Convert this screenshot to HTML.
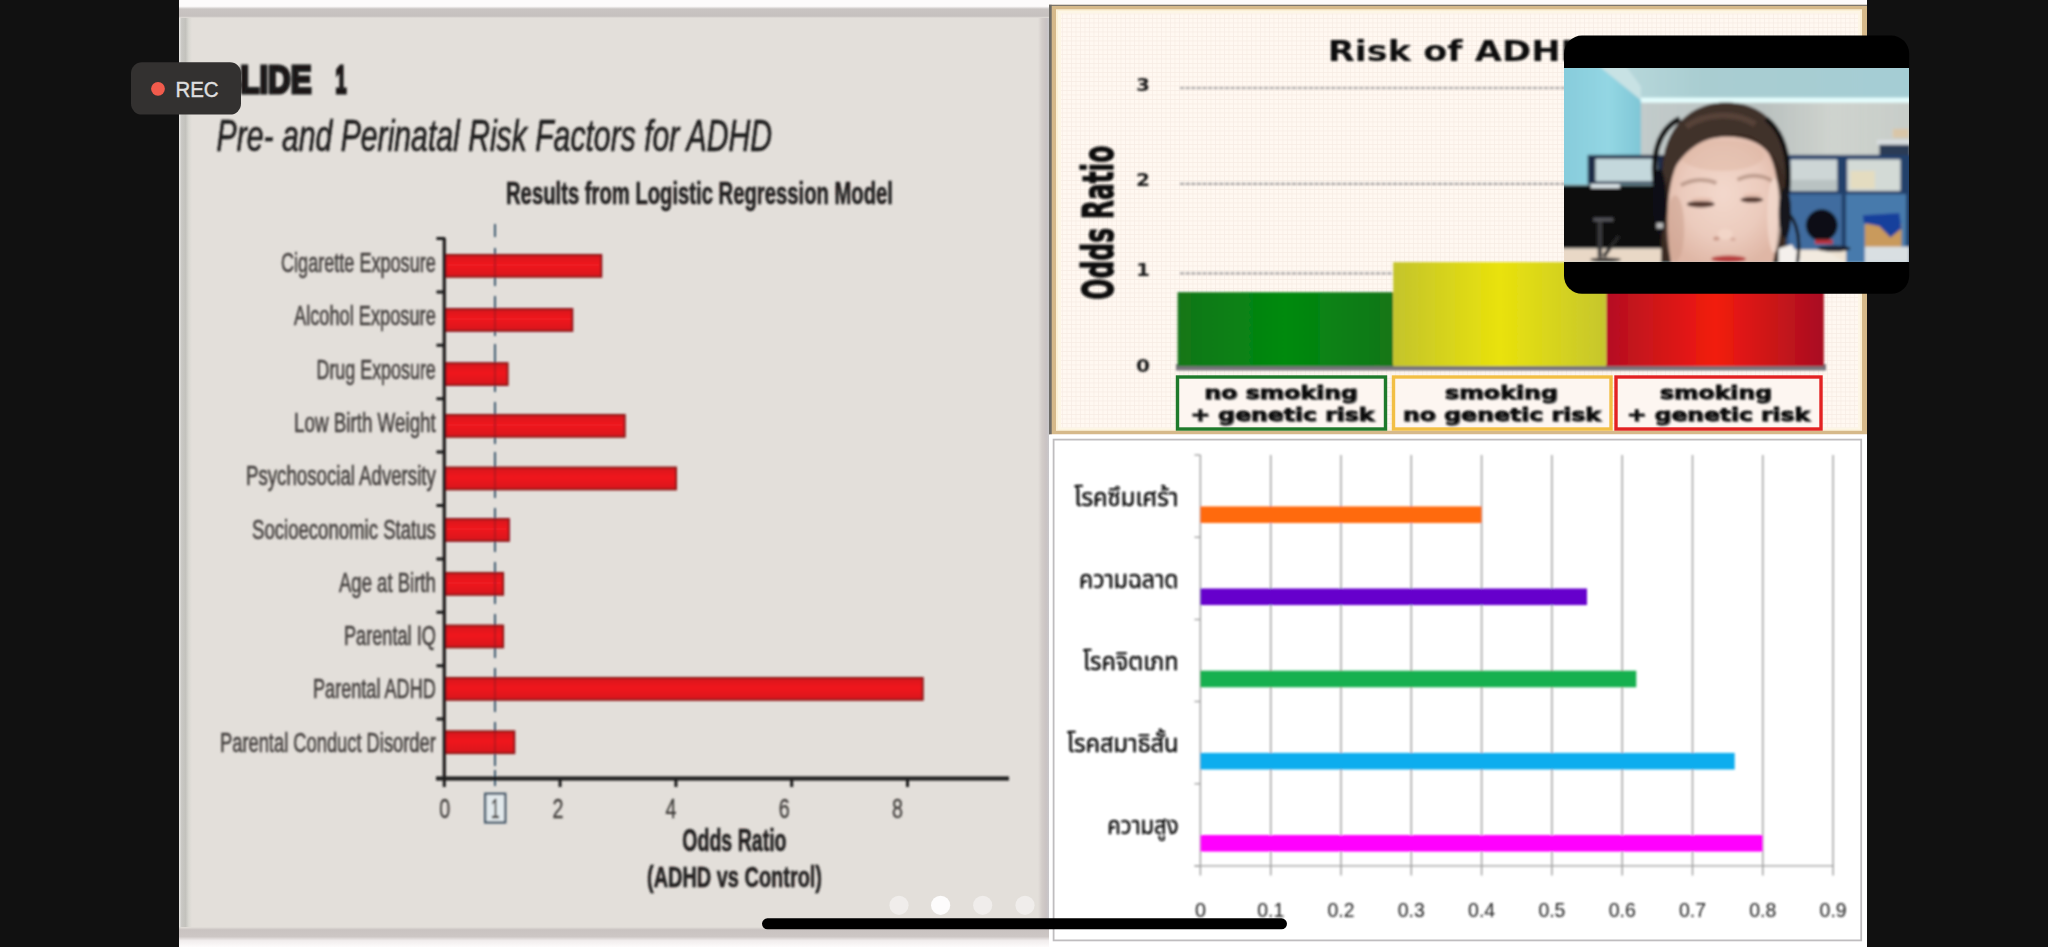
<!DOCTYPE html>
<html lang="th"><head><meta charset="utf-8"><title>Slide share</title>
<style>
html,body{margin:0;padding:0;background:#111111;}
body{width:2048px;height:947px;overflow:hidden;position:relative;font-family:"Liberation Sans","Noto Sans Thai",sans-serif;}
svg{display:block;position:absolute;left:0;top:0;}
text{white-space:pre;}
</style></head><body>
<svg width="2048" height="947" viewBox="0 0 2048 947">
<defs>
<pattern id="grid" width="4.5" height="4.5" patternUnits="userSpaceOnUse">
<rect width="4.5" height="4.5" fill="#fff8f1"/>
<path d="M0 0H4.5M0 0V4.5" stroke="#f7ebe3" stroke-width="1.2" fill="none"/>
</pattern>
<linearGradient id="gGreen" x1="0" x2="1" y1="0" y2="0"><stop offset="0" stop-color="#14761a"/><stop offset="0.5" stop-color="#008a0e"/><stop offset="1" stop-color="#14761a"/></linearGradient>
<linearGradient id="gYellow" x1="0" x2="1" y1="0" y2="0"><stop offset="0" stop-color="#c4c42c"/><stop offset="0.5" stop-color="#e9e20c"/><stop offset="1" stop-color="#c6c62e"/></linearGradient>
<linearGradient id="gRed" x1="0" x2="1" y1="0" y2="0"><stop offset="0" stop-color="#b40f22"/><stop offset="0.5" stop-color="#f21c0e"/><stop offset="1" stop-color="#a80e22"/></linearGradient>
<linearGradient id="gBar" x1="0" x2="0" y1="0" y2="1"><stop offset="0" stop-color="#d8161c"/><stop offset="0.45" stop-color="#f01a20"/><stop offset="1" stop-color="#d8161c"/></linearGradient>
<linearGradient id="gTop" x1="0" x2="0" y1="0" y2="1"><stop offset="0" stop-color="#fdfbfb"/><stop offset="0.35" stop-color="#fdfbfb"/><stop offset="0.5" stop-color="#c9c4c2"/><stop offset="0.9" stop-color="#c6c1bf"/><stop offset="1" stop-color="#e3dfda"/></linearGradient>
<linearGradient id="gBot" x1="0" x2="0" y1="0" y2="1"><stop offset="0" stop-color="#e3dfda"/><stop offset="0.14" stop-color="#c9c3c1"/><stop offset="0.48" stop-color="#cdc7c5"/><stop offset="0.68" stop-color="#f1eded"/><stop offset="1" stop-color="#fdfbfb"/></linearGradient>
<linearGradient id="gLeft" x1="0" x2="1" y1="0" y2="0"><stop offset="0" stop-color="#ecebe8"/><stop offset="0.2" stop-color="#c9c8c4"/><stop offset="0.5" stop-color="#c3c2bd"/><stop offset="0.75" stop-color="#d9d8d2"/><stop offset="1" stop-color="#e3dfda"/></linearGradient>
<linearGradient id="gRight" x1="0" x2="1" y1="0" y2="0"><stop offset="0" stop-color="#e3dfda"/><stop offset="0.35" stop-color="#d2ccc9"/><stop offset="0.7" stop-color="#cac3c3"/><stop offset="1" stop-color="#c8c8cc"/></linearGradient>
<filter id="soft" x="-5%" y="-5%" width="110%" height="110%"><feGaussianBlur stdDeviation="0.85"/></filter>
<filter id="soft2" x="-5%" y="-5%" width="110%" height="110%"><feGaussianBlur stdDeviation="0.8"/></filter>
<filter id="photo" x="-5%" y="-5%" width="110%" height="110%"><feGaussianBlur stdDeviation="1.5"/></filter>
<clipPath id="photoClip"><rect x="1564" y="68" width="345" height="194"/></clipPath>
</defs>
<rect x="0" y="0" width="2048" height="947" fill="#111111"/>
<rect x="179" y="0" width="1688" height="947" fill="#fdfbfb"/>

<g id="slide">
<rect x="179" y="0" width="870" height="947" fill="#e3dfda"/>
<rect x="179" y="6" width="13" height="934" fill="url(#gLeft)"/>
<rect x="1038" y="8" width="11.5" height="930" fill="url(#gRight)"/>
<rect x="179" y="0" width="870.5" height="18" fill="url(#gTop)"/>
<rect x="179" y="927" width="870.5" height="20" fill="url(#gBot)"/>
</g>
<g id="slidecontent" filter="url(#soft)">
<text x="219.5" y="92.5" font-family="'Liberation Sans', sans-serif" font-size="38.5" font-weight="bold" font-style="normal" fill="#1c1a1a" text-anchor="start" textLength="92" lengthAdjust="spacingAndGlyphs" stroke="#1c1a1a" stroke-width="3.2" stroke-linejoin="miter">SLIDE</text>
<text x="335.5" y="92.5" font-family="'Liberation Sans', sans-serif" font-size="38.5" font-weight="bold" font-style="normal" fill="#1c1a1a" text-anchor="start" textLength="11" lengthAdjust="spacingAndGlyphs" stroke="#1c1a1a" stroke-width="3.2" stroke-linejoin="miter">1</text>
<text x="216.6" y="151" font-family="'Liberation Sans', sans-serif" font-size="44.2" font-weight="normal" font-style="italic" fill="#1f1d1d" text-anchor="start" textLength="555.5" lengthAdjust="spacingAndGlyphs" stroke="#1f1d1d" stroke-width="0.7">Pre- and Perinatal Risk Factors for ADHD</text>
<text x="506" y="204" font-family="'Liberation Sans', sans-serif" font-size="31.5" font-weight="bold" font-style="normal" fill="#232020" text-anchor="start" textLength="387" lengthAdjust="spacingAndGlyphs" stroke="#232020" stroke-width="0.6">Results from Logistic Regression Model</text>
<path d="M495 224V237 M495 248V286 M495 296V336 M495 344V392 M495 402V444 M495 452V498 M495 508V552 M495 562V604 M495 614V658 M495 668V712 M495 722V766 M495 770V786" stroke="#33526a" stroke-width="1.9" fill="none"/>
<text x="281" y="272.0" font-family="'Liberation Sans', sans-serif" font-size="27" font-weight="normal" font-style="normal" fill="#433f3d" text-anchor="start" textLength="154.8" lengthAdjust="spacingAndGlyphs" stroke="#433f3d" stroke-width="0.6">Cigarette Exposure</text>
<rect x="445.5" y="254.95" width="155.8" height="21.8" fill="url(#gBar)" stroke="#8e1216" stroke-width="2"/>
<text x="294" y="325.3" font-family="'Liberation Sans', sans-serif" font-size="27" font-weight="normal" font-style="normal" fill="#433f3d" text-anchor="start" textLength="141.8" lengthAdjust="spacingAndGlyphs" stroke="#433f3d" stroke-width="0.6">Alcohol Exposure</text>
<rect x="445.5" y="309.05" width="126.8" height="21.8" fill="url(#gBar)" stroke="#8e1216" stroke-width="2"/>
<text x="316.5" y="378.6" font-family="'Liberation Sans', sans-serif" font-size="27" font-weight="normal" font-style="normal" fill="#433f3d" text-anchor="start" textLength="119.3" lengthAdjust="spacingAndGlyphs" stroke="#433f3d" stroke-width="0.6">Drug Exposure</text>
<rect x="445.5" y="363.15" width="62.1" height="21.8" fill="url(#gBar)" stroke="#8e1216" stroke-width="2"/>
<text x="294" y="431.9" font-family="'Liberation Sans', sans-serif" font-size="27" font-weight="normal" font-style="normal" fill="#433f3d" text-anchor="start" textLength="141.8" lengthAdjust="spacingAndGlyphs" stroke="#433f3d" stroke-width="0.6">Low Birth Weight</text>
<rect x="445.5" y="414.95" width="179.2" height="21.8" fill="url(#gBar)" stroke="#8e1216" stroke-width="2"/>
<text x="246" y="485.2" font-family="'Liberation Sans', sans-serif" font-size="27" font-weight="normal" font-style="normal" fill="#433f3d" text-anchor="start" textLength="189.8" lengthAdjust="spacingAndGlyphs" stroke="#433f3d" stroke-width="0.6">Psychosocial Adversity</text>
<rect x="445.5" y="467.55" width="230.5" height="21.8" fill="url(#gBar)" stroke="#8e1216" stroke-width="2"/>
<text x="252" y="538.5" font-family="'Liberation Sans', sans-serif" font-size="27" font-weight="normal" font-style="normal" fill="#433f3d" text-anchor="start" textLength="183.8" lengthAdjust="spacingAndGlyphs" stroke="#433f3d" stroke-width="0.6">Socioeconomic Status</text>
<rect x="445.5" y="519.05" width="63.4" height="21.8" fill="url(#gBar)" stroke="#8e1216" stroke-width="2"/>
<text x="339" y="591.8" font-family="'Liberation Sans', sans-serif" font-size="27" font-weight="normal" font-style="normal" fill="#433f3d" text-anchor="start" textLength="96.8" lengthAdjust="spacingAndGlyphs" stroke="#433f3d" stroke-width="0.6">Age at Birth</text>
<rect x="445.5" y="572.95" width="57.6" height="21.8" fill="url(#gBar)" stroke="#8e1216" stroke-width="2"/>
<text x="344" y="645.1" font-family="'Liberation Sans', sans-serif" font-size="27" font-weight="normal" font-style="normal" fill="#433f3d" text-anchor="start" textLength="91.8" lengthAdjust="spacingAndGlyphs" stroke="#433f3d" stroke-width="0.6">Parental IQ</text>
<rect x="445.5" y="625.55" width="57.6" height="21.8" fill="url(#gBar)" stroke="#8e1216" stroke-width="2"/>
<text x="313" y="698.4" font-family="'Liberation Sans', sans-serif" font-size="27" font-weight="normal" font-style="normal" fill="#433f3d" text-anchor="start" textLength="122.8" lengthAdjust="spacingAndGlyphs" stroke="#433f3d" stroke-width="0.6">Parental ADHD</text>
<rect x="445.5" y="677.95" width="477.2" height="21.8" fill="url(#gBar)" stroke="#8e1216" stroke-width="2"/>
<text x="220" y="751.7" font-family="'Liberation Sans', sans-serif" font-size="27" font-weight="normal" font-style="normal" fill="#433f3d" text-anchor="start" textLength="215.8" lengthAdjust="spacingAndGlyphs" stroke="#433f3d" stroke-width="0.6">Parental Conduct Disorder</text>
<rect x="445.5" y="731.35" width="68.8" height="21.8" fill="url(#gBar)" stroke="#8e1216" stroke-width="2"/>
<path d="M495 255.7V275.7 M495 309.8V329.8 M495 363.9V383.9 M495 415.7V435.7 M495 468.3V488.3 M495 519.8V539.8 M495 573.7V593.7 M495 626.3V646.3 M495 678.7V698.7 M495 732.1V752.1 " stroke="#7a1a22" stroke-width="1.6" opacity="0.5" fill="none"/>
<path d="M444.3 238V779" stroke="#1d1b1b" stroke-width="3.2" fill="none"/>
<path d="M436 778.6H1009" stroke="#1d1b1b" stroke-width="4" fill="none"/>
<path d="M436.5 238.5H445 M436.5 291.9H445 M436.5 345.3H445 M436.5 398.7H445 M436.5 452.1H445 M436.5 505.5H445 M436.5 558.9H445 M436.5 612.3H445 M436.5 665.7H445 M436.5 719.1H445 " stroke="#1d1b1b" stroke-width="3" fill="none"/>
<path d="M444.3 778V787 M560.1 778V787 M675.9 778V787 M791.7 778V787 M907.5 778V787 " stroke="#1d1b1b" stroke-width="3" fill="none"/>
<text x="444.7" y="818" font-family="'Liberation Sans', sans-serif" font-size="27" font-weight="normal" font-style="normal" fill="#3f3c3a" text-anchor="middle" textLength="11" lengthAdjust="spacingAndGlyphs" stroke="#3f3c3a" stroke-width="0.3">0</text>
<text x="557.9" y="818" font-family="'Liberation Sans', sans-serif" font-size="27" font-weight="normal" font-style="normal" fill="#3f3c3a" text-anchor="middle" textLength="11" lengthAdjust="spacingAndGlyphs" stroke="#3f3c3a" stroke-width="0.3">2</text>
<text x="671.1" y="818" font-family="'Liberation Sans', sans-serif" font-size="27" font-weight="normal" font-style="normal" fill="#3f3c3a" text-anchor="middle" textLength="11" lengthAdjust="spacingAndGlyphs" stroke="#3f3c3a" stroke-width="0.3">4</text>
<text x="784.3" y="818" font-family="'Liberation Sans', sans-serif" font-size="27" font-weight="normal" font-style="normal" fill="#3f3c3a" text-anchor="middle" textLength="11" lengthAdjust="spacingAndGlyphs" stroke="#3f3c3a" stroke-width="0.3">6</text>
<text x="897.5" y="818" font-family="'Liberation Sans', sans-serif" font-size="27" font-weight="normal" font-style="normal" fill="#3f3c3a" text-anchor="middle" textLength="11" lengthAdjust="spacingAndGlyphs" stroke="#3f3c3a" stroke-width="0.3">8</text>
<rect x="485.2" y="793.8" width="20" height="28.6" fill="#e2e9ec" stroke="#44596a" stroke-width="2.4"/>
<text x="495.3" y="818" font-family="'Liberation Sans', sans-serif" font-size="27" font-weight="normal" font-style="normal" fill="#3f3c3a" text-anchor="middle" textLength="9" lengthAdjust="spacingAndGlyphs" stroke="#3f3c3a" stroke-width="0.3">1</text>
<text x="682.3" y="851" font-family="'Liberation Sans', sans-serif" font-size="31.5" font-weight="bold" font-style="normal" fill="#232020" text-anchor="start" textLength="104.2" lengthAdjust="spacingAndGlyphs" stroke="#232020" stroke-width="0.6">Odds Ratio</text>
<text x="647" y="887.4" font-family="'Liberation Sans', sans-serif" font-size="30" font-weight="bold" font-style="normal" fill="#232020" text-anchor="start" textLength="175" lengthAdjust="spacingAndGlyphs" stroke="#232020" stroke-width="0.6">(ADHD vs Control)</text>
</g>
<g id="risk">
<rect x="1049" y="4.8" width="818" height="429.4" fill="#d6b98a"/>
<rect x="1049" y="4.8" width="818" height="1.2" fill="#7b756c"/>
<rect x="1049" y="4.8" width="2.7" height="429.4" fill="#6c6a66"/>
<rect x="1056" y="9.3" width="806" height="421.5" fill="#fbf0d6"/>
<rect x="1058" y="11" width="802" height="418.5" fill="#fdf6e6"/>
<rect x="1061" y="13.5" width="797" height="414" fill="url(#grid)"/>
<g filter="url(#soft)">
<path d="M1180 88H1826" stroke="#a9a6a6" stroke-width="2.2" stroke-dasharray="4.2 1.4" fill="none"/>
<path d="M1180 183.8H1826" stroke="#a9a6a6" stroke-width="2.2" stroke-dasharray="4.2 1.4" fill="none"/>
<path d="M1180 273.4H1826" stroke="#a9a6a6" stroke-width="2.2" stroke-dasharray="4.2 1.4" fill="none"/>
<text x="1136" y="91" font-family="'DejaVu Sans', sans-serif" font-size="17" font-weight="bold" font-style="normal" fill="#1a1a1a" text-anchor="start" textLength="14" lengthAdjust="spacingAndGlyphs" >3</text>
<text x="1136" y="186" font-family="'DejaVu Sans', sans-serif" font-size="17" font-weight="bold" font-style="normal" fill="#1a1a1a" text-anchor="start" textLength="14" lengthAdjust="spacingAndGlyphs" >2</text>
<text x="1136" y="276" font-family="'DejaVu Sans', sans-serif" font-size="17" font-weight="bold" font-style="normal" fill="#1a1a1a" text-anchor="start" textLength="14" lengthAdjust="spacingAndGlyphs" >1</text>
<text x="1136" y="372" font-family="'DejaVu Sans', sans-serif" font-size="17" font-weight="bold" font-style="normal" fill="#1a1a1a" text-anchor="start" textLength="14" lengthAdjust="spacingAndGlyphs" >0</text>
<text x="1327.7" y="61.2" font-family="'DejaVu Sans', sans-serif" font-size="28.3" font-weight="bold" font-style="normal" fill="#111" text-anchor="start" textLength="262" lengthAdjust="spacingAndGlyphs" >Risk of ADHD</text>
<g transform="translate(1113.2 300.5) rotate(-90)">
<text x="0.8" y="-0.6" font-family="'DejaVu Sans', sans-serif" font-size="42.5" font-weight="bold" font-style="normal" fill="#111" text-anchor="start" textLength="154" lengthAdjust="spacingAndGlyphs" stroke="#111" stroke-width="1.3">Odds Ratio</text>
</g>
<rect x="1176" y="364" width="650" height="6.5" fill="#77737a"/>
<rect x="1177.6" y="292.2" width="215.6" height="74" fill="url(#gGreen)"/>
<rect x="1393.2" y="262.2" width="213.3" height="104" fill="url(#gYellow)"/>
<rect x="1606.5" y="255" width="217.3" height="111.2" fill="url(#gRed)"/>
</g>
<rect x="1177.5" y="377" width="208" height="52" fill="#fdf6f1" stroke="#1f7a2b" stroke-width="3.4"/>
<rect x="1393.5" y="377" width="217.5" height="52" fill="#fdf6f1" stroke="#f2bf45" stroke-width="3.4"/>
<rect x="1616" y="377" width="205" height="52" fill="#fdf6f1" stroke="#e32222" stroke-width="3.4"/>
<g filter="url(#soft)">
<text x="1205.7" y="400.0" font-family="'DejaVu Sans', sans-serif" font-size="18.4" font-weight="bold" font-style="normal" fill="#8a8a8a" text-anchor="start" textLength="153.5" lengthAdjust="spacingAndGlyphs" >no smoking</text>
<text x="1204.5" y="398.8" font-family="'DejaVu Sans', sans-serif" font-size="18.4" font-weight="bold" font-style="normal" fill="#111" text-anchor="start" textLength="153.5" lengthAdjust="spacingAndGlyphs" stroke="#111" stroke-width="0.9">no smoking</text>
<text x="1191.7" y="421.7" font-family="'DejaVu Sans', sans-serif" font-size="18.4" font-weight="bold" font-style="normal" fill="#8a8a8a" text-anchor="start" textLength="183.9" lengthAdjust="spacingAndGlyphs" >+ genetic risk</text>
<text x="1190.5" y="420.5" font-family="'DejaVu Sans', sans-serif" font-size="18.4" font-weight="bold" font-style="normal" fill="#111" text-anchor="start" textLength="183.9" lengthAdjust="spacingAndGlyphs" stroke="#111" stroke-width="0.9">+ genetic risk</text>
<text x="1446.2" y="400.0" font-family="'DejaVu Sans', sans-serif" font-size="18.4" font-weight="bold" font-style="normal" fill="#8a8a8a" text-anchor="start" textLength="113" lengthAdjust="spacingAndGlyphs" >smoking</text>
<text x="1445" y="398.8" font-family="'DejaVu Sans', sans-serif" font-size="18.4" font-weight="bold" font-style="normal" fill="#111" text-anchor="start" textLength="113" lengthAdjust="spacingAndGlyphs" stroke="#111" stroke-width="0.9">smoking</text>
<text x="1404.2" y="421.7" font-family="'DejaVu Sans', sans-serif" font-size="18.4" font-weight="bold" font-style="normal" fill="#8a8a8a" text-anchor="start" textLength="198" lengthAdjust="spacingAndGlyphs" >no genetic risk</text>
<text x="1403" y="420.5" font-family="'DejaVu Sans', sans-serif" font-size="18.4" font-weight="bold" font-style="normal" fill="#111" text-anchor="start" textLength="198" lengthAdjust="spacingAndGlyphs" stroke="#111" stroke-width="0.9">no genetic risk</text>
<text x="1661.2" y="400.0" font-family="'DejaVu Sans', sans-serif" font-size="18.4" font-weight="bold" font-style="normal" fill="#8a8a8a" text-anchor="start" textLength="112" lengthAdjust="spacingAndGlyphs" >smoking</text>
<text x="1660" y="398.8" font-family="'DejaVu Sans', sans-serif" font-size="18.4" font-weight="bold" font-style="normal" fill="#111" text-anchor="start" textLength="112" lengthAdjust="spacingAndGlyphs" stroke="#111" stroke-width="0.9">smoking</text>
<text x="1628.2" y="421.7" font-family="'DejaVu Sans', sans-serif" font-size="18.4" font-weight="bold" font-style="normal" fill="#8a8a8a" text-anchor="start" textLength="183" lengthAdjust="spacingAndGlyphs" >+ genetic risk</text>
<text x="1627" y="420.5" font-family="'DejaVu Sans', sans-serif" font-size="18.4" font-weight="bold" font-style="normal" fill="#111" text-anchor="start" textLength="183" lengthAdjust="spacingAndGlyphs" stroke="#111" stroke-width="0.9">+ genetic risk</text>
</g>
</g>
<g id="thai">
<rect x="1049" y="435" width="818" height="512" fill="#ffffff"/>
<rect x="1053.6" y="439.6" width="807.6" height="500.8" fill="#ffffff" stroke="#bfbdbf" stroke-width="1.8"/>
<g filter="url(#soft)">
<path d="M1200.4 455V875.5 M1270.7 455V875.5 M1341.0 455V875.5 M1411.3 455V875.5 M1481.6 455V875.5 M1551.9 455V875.5 M1622.2 455V875.5 M1692.5 455V875.5 M1762.8 455V875.5 M1833.1 455V875.5 " stroke="#9c9c9c" stroke-width="1.4" fill="none"/>
<path d="M1194.5 865.9H1833.5" stroke="#9c9c9c" stroke-width="1.4" fill="none"/>
<path d="M1194.5 455.0H1200.4 M1194.5 537.2H1200.4 M1194.5 619.4H1200.4 M1194.5 701.6H1200.4 M1194.5 783.8H1200.4 M1194.5 866.0H1200.4 " stroke="#a9a9a9" stroke-width="1.5" fill="none"/>
<rect x="1200.4" y="506.4" width="281.2" height="16.6" fill="#ff6a0f"/>
<text x="1074.3" y="505.6" font-family="'Liberation Sans', 'Noto Sans Thai', 'Noto Sans Thai UI', 'Loma', 'Garuda', sans-serif" font-size="24" font-weight="normal" font-style="normal" fill="#111" text-anchor="start" textLength="104.2" lengthAdjust="spacingAndGlyphs" stroke="#111" stroke-width="0.55">โรคซึมเศร้า</text>
<rect x="1200.4" y="588.5" width="386.6" height="16.6" fill="#6600cc"/>
<text x="1079" y="587.8" font-family="'Liberation Sans', 'Noto Sans Thai', 'Noto Sans Thai UI', 'Loma', 'Garuda', sans-serif" font-size="24" font-weight="normal" font-style="normal" fill="#111" text-anchor="start" textLength="99.5" lengthAdjust="spacingAndGlyphs" stroke="#111" stroke-width="0.55">ความฉลาด</text>
<rect x="1200.4" y="670.7" width="435.9" height="16.6" fill="#19b050"/>
<text x="1083" y="669.9" font-family="'Liberation Sans', 'Noto Sans Thai', 'Noto Sans Thai UI', 'Loma', 'Garuda', sans-serif" font-size="24" font-weight="normal" font-style="normal" fill="#111" text-anchor="start" textLength="95.5" lengthAdjust="spacingAndGlyphs" stroke="#111" stroke-width="0.55">โรคจิตเภท</text>
<rect x="1200.4" y="752.9" width="534.3" height="16.6" fill="#0fadee"/>
<text x="1067" y="752.1" font-family="'Liberation Sans', 'Noto Sans Thai', 'Noto Sans Thai UI', 'Loma', 'Garuda', sans-serif" font-size="24" font-weight="normal" font-style="normal" fill="#111" text-anchor="start" textLength="111.5" lengthAdjust="spacingAndGlyphs" stroke="#111" stroke-width="0.55">โรคสมาธิสั้น</text>
<rect x="1200.4" y="835.0" width="562.4" height="16.6" fill="#ff00fe"/>
<text x="1107.3" y="834.2" font-family="'Liberation Sans', 'Noto Sans Thai', 'Noto Sans Thai UI', 'Loma', 'Garuda', sans-serif" font-size="24" font-weight="normal" font-style="normal" fill="#111" text-anchor="start" textLength="71.2" lengthAdjust="spacingAndGlyphs" stroke="#111" stroke-width="0.55">ความสูง</text>
<text x="1200.4" y="917" font-family="'Liberation Sans', sans-serif" font-size="21" font-weight="normal" font-style="normal" fill="#1c1c1c" text-anchor="middle" textLength="11" lengthAdjust="spacingAndGlyphs" >0</text>
<text x="1270.7" y="917" font-family="'Liberation Sans', sans-serif" font-size="21" font-weight="normal" font-style="normal" fill="#1c1c1c" text-anchor="middle" textLength="27" lengthAdjust="spacingAndGlyphs" >0.1</text>
<text x="1341.0" y="917" font-family="'Liberation Sans', sans-serif" font-size="21" font-weight="normal" font-style="normal" fill="#1c1c1c" text-anchor="middle" textLength="27" lengthAdjust="spacingAndGlyphs" >0.2</text>
<text x="1411.3" y="917" font-family="'Liberation Sans', sans-serif" font-size="21" font-weight="normal" font-style="normal" fill="#1c1c1c" text-anchor="middle" textLength="27" lengthAdjust="spacingAndGlyphs" >0.3</text>
<text x="1481.6" y="917" font-family="'Liberation Sans', sans-serif" font-size="21" font-weight="normal" font-style="normal" fill="#1c1c1c" text-anchor="middle" textLength="27" lengthAdjust="spacingAndGlyphs" >0.4</text>
<text x="1551.9" y="917" font-family="'Liberation Sans', sans-serif" font-size="21" font-weight="normal" font-style="normal" fill="#1c1c1c" text-anchor="middle" textLength="27" lengthAdjust="spacingAndGlyphs" >0.5</text>
<text x="1622.2" y="917" font-family="'Liberation Sans', sans-serif" font-size="21" font-weight="normal" font-style="normal" fill="#1c1c1c" text-anchor="middle" textLength="27" lengthAdjust="spacingAndGlyphs" >0.6</text>
<text x="1692.5" y="917" font-family="'Liberation Sans', sans-serif" font-size="21" font-weight="normal" font-style="normal" fill="#1c1c1c" text-anchor="middle" textLength="27" lengthAdjust="spacingAndGlyphs" >0.7</text>
<text x="1762.8" y="917" font-family="'Liberation Sans', sans-serif" font-size="21" font-weight="normal" font-style="normal" fill="#1c1c1c" text-anchor="middle" textLength="27" lengthAdjust="spacingAndGlyphs" >0.8</text>
<text x="1833.1" y="917" font-family="'Liberation Sans', sans-serif" font-size="21" font-weight="normal" font-style="normal" fill="#1c1c1c" text-anchor="middle" textLength="27" lengthAdjust="spacingAndGlyphs" >0.9</text>
</g>
</g>
<circle cx="899" cy="905.3" r="9.6" fill="#ffffff" opacity="0.45"/>
<circle cx="940.6" cy="905.3" r="9.6" fill="#ffffff" opacity="0.9"/>
<circle cx="982.7" cy="905.3" r="9.6" fill="#ffffff" opacity="0.45"/>
<circle cx="1025" cy="905.3" r="9.6" fill="#ffffff" opacity="0.45"/>
<rect x="762" y="918.3" width="525" height="11" rx="5.5" fill="#000000"/>
<g id="thumb">
<rect x="1564" y="35.6" width="345.2" height="258.2" rx="18" fill="#000000"/>
<g clip-path="url(#photoClip)"><g filter="url(#photo)">
<defs><linearGradient id="pBlinds" x1="0" x2="1" y1="0" y2="0"><stop offset="0" stop-color="#c9d2d2"/><stop offset="0.45" stop-color="#bfc6c4"/><stop offset="0.7" stop-color="#d8dcd6"/><stop offset="1" stop-color="#cfd4cf"/></linearGradient><linearGradient id="pCeil" x1="0" x2="1" y1="0" y2="0"><stop offset="0" stop-color="#c2dfe2"/><stop offset="0.4" stop-color="#a9cdd1"/><stop offset="1" stop-color="#a4cdd4"/></linearGradient><linearGradient id="pWall" x1="0" x2="1" y1="0" y2="0"><stop offset="0" stop-color="#86cbdb"/><stop offset="0.6" stop-color="#93d6e3"/><stop offset="1" stop-color="#7fc6d6"/></linearGradient><radialGradient id="pFace" cx="0.5" cy="0.45" r="0.6"><stop offset="0" stop-color="#f3d8cc"/><stop offset="0.6" stop-color="#ebcbbd"/><stop offset="1" stop-color="#dfb6a5"/></radialGradient><pattern id="pStripe" width="2.6" height="10" patternUnits="userSpaceOnUse"><rect width="2.6" height="10" fill="none"/><rect width="0.9" height="10" fill="#9aa3a3" opacity="0.45"/></pattern></defs>
<rect x="1560.0" y="60.0" width="354.8" height="210.7" fill="#a9cdd1" />
<rect x="1560.0" y="66.7" width="354.8" height="33.3" fill="url(#pCeil)" />
<rect x="1639.8" y="101.0" width="275.0" height="58.8" fill="url(#pBlinds)" />
<rect x="1639.8" y="102.1" width="275.0" height="56.6" fill="url(#pStripe)" />
<rect x="1639.8" y="97.7" width="275.0" height="4.9" fill="#e6ffff" />
<polygon points="1560.0,66.7 1599.9,66.7 1640.9,99.9 1640.9,184.2 1560.0,184.2" fill="url(#pWall)" />
<polygon points="1599.9,66.7 1626.5,66.7 1640.9,86.6 1640.9,99.9" fill="#c8e2e4" />
<rect x="1879.4" y="144.3" width="31.0" height="13.3" fill="#2c3a55" />
<rect x="1877.1" y="139.8" width="33.3" height="4.9" fill="#d8dde0" />
<rect x="1892.7" y="128.8" width="16.0" height="8.9" fill="#d9c6a8" />
<rect x="1786.2" y="154.9" width="128.6" height="108.0" fill="#24416b" />
<rect x="1790.6" y="159.4" width="46.6" height="31.5" fill="#cdd6d6" />
<rect x="1847.2" y="159.4" width="53.2" height="31.5" fill="#d3dad6" />
<rect x="1790.6" y="179.8" width="46.6" height="11.1" fill="#b9c2c2" />
<rect x="1850.5" y="170.9" width="24.4" height="17.7" fill="#e4dcc0" />
<rect x="1788.4" y="194.2" width="53.2" height="68.8" fill="#3f6c9f" />
<rect x="1846.1" y="194.2" width="59.9" height="68.8" fill="#477aac" />
<rect x="1587.7" y="154.9" width="76.5" height="29.3" fill="#1b2c47" />
<rect x="1595.5" y="158.7" width="62.1" height="22.8" fill="#c4d8dc" />
<rect x="1560.0" y="185.3" width="106.5" height="63.2" fill="#0b0b0d" />
<rect x="1591.0" y="184.2" width="28.8" height="4.0" fill="#dfe6ea" />
<rect x="1560.0" y="248.5" width="106.5" height="14.4" fill="#e9d8c6" />
<rect x="1781.8" y="249.6" width="64.3" height="13.3" fill="#efe3d3" />
<polygon points="1781.8,262.9 1781.8,250.7 1826.1,250.7 1846.1,262.9" fill="#f2eadf" />
<rect x="1597.7" y="219.7" width="4.4" height="37.7" fill="#3a3a3c" />
<rect x="1593.3" y="217.9" width="20.0" height="3.5" fill="#55555a" />
<polygon points="1602.1,255.2 1617.7,235.2 1619.9,237.0 1605.5,257.4" fill="#2a2a2c" />
<ellipse cx="1605.5" cy="259.6" rx="15.5" ry="2.2" fill="#2e2c2c" />
<ellipse cx="1821.7" cy="225.2" rx="16.0" ry="16.0" fill="#0d1016" />
<rect x="1815.0" y="239.6" width="17.7" height="4.4" fill="#b8323a" />
<ellipse cx="1833.9" cy="248.5" rx="16.6" ry="3.1" fill="#1a2030" />
<rect x="1864.9" y="224.1" width="36.6" height="23.3" fill="#c99a5c" />
<polygon points="1862.7,215.2 1899.3,213.0 1901.5,228.6 1890.5,237.4 1879.4,226.3 1863.8,223.0" fill="#17409c" />
<rect x="1864.9" y="246.7" width="44.4" height="16.2" fill="#d9dfe2" />
<path d="M1660.9 262.9 L1662.5 175.3 C1660.9 126.5,1693.1 101.7,1727.4 102.6 C1766.3 103.5,1791.8 131.0,1788.9 184.2 L1785.1 262.9Z" fill="#3b2b24"/>
<polygon points="1778.5,262.9 1778.5,248.5 1791.8,244.5 1802.8,262.9" fill="#f4f0ec" />
<path d="M1670.9 262.9 C1666.5 228.6,1664.2 184.2,1680.9 155.4 C1697.5 133.2,1750.7 128.8,1768.5 153.1 C1781.8 175.3,1780.7 228.6,1772.9 262.9Z" fill="url(#pFace)"/>
<ellipse cx="1721.9" cy="155.4" rx="42.1" ry="15.5" fill="#dbb4a0" opacity="0.45"/>
<ellipse cx="1675.3" cy="228.6" rx="8.9" ry="33.3" fill="#c99d8c" opacity="0.5"/>
<ellipse cx="1774.0" cy="215.2" rx="6.7" ry="37.7" fill="#f4ddd2" opacity="0.7"/>
<path d="M1662.5 193.1 C1660.9 126.5,1693.1 101.7,1727.4 102.6 C1766.3 103.5,1791.8 131.0,1788.4 193.1 C1781.8 164.2,1770.7 144.3,1750.7 135.4 C1728.6 131.0,1701.9 137.6,1686.4 153.1 C1673.1 166.5,1668.7 179.8,1662.5 193.1Z" fill="#413029"/>
<path d="M1686.4 126.5 C1706.4 112.1,1737.4 112.1,1755.2 124.3" stroke="#6b5446" stroke-width="6" fill="none" opacity="0.5"/>
<path d="M1657.6 197.5 C1648.7 153.1,1659.8 128.8,1679.8 118.8" stroke="#0c0c0e" stroke-width="5.5" fill="none"/>
<path d="M1766.3 118.8 C1784.0 133.2,1790.6 159.8,1787.3 193.1" stroke="#0c0c0e" stroke-width="5" fill="none"/>
<ellipse cx="1659.4" cy="201.9" rx="7.1" ry="33.3" fill="#101012" />
<ellipse cx="1784.9" cy="213.0" rx="6.2" ry="25.5" fill="#15151a" />
<path d="M1788.4 213.0 C1798.4 224.1,1800.6 241.9,1797.3 262.9" stroke="#16161a" stroke-width="3.2" fill="none"/>
<rect x="1656.5" y="223.0" width="6.7" height="5.5" fill="#b8b8b8" />
<path d="M1680.9 185.3 C1693.1 178.7,1706.4 178.7,1716.4 183.1" stroke="#8a6656" stroke-width="4" fill="none" opacity="0.45"/>
<path d="M1737.4 179.8 C1748.5 174.2,1761.8 174.2,1771.8 180.9" stroke="#8a6656" stroke-width="4" fill="none" opacity="0.45"/>
<ellipse cx="1700.8" cy="204.2" rx="13.8" ry="3.3" fill="#452a22" opacity="0.9"/>
<ellipse cx="1751.8" cy="199.7" rx="11.5" ry="2.9" fill="#452a22" opacity="0.9"/>
<ellipse cx="1701.9" cy="199.3" rx="11.1" ry="2.0" fill="#e3bcab" opacity="0.8"/>
<ellipse cx="1752.5" cy="195.1" rx="9.3" ry="1.8" fill="#e3bcab" opacity="0.8"/>
<ellipse cx="1725.2" cy="234.1" rx="7.5" ry="5.3" fill="#f3d6c8" opacity="0.9"/>
<ellipse cx="1716.4" cy="238.5" rx="3.1" ry="2.0" fill="#b98070" opacity="0.7"/>
<ellipse cx="1733.0" cy="239.2" rx="2.7" ry="1.8" fill="#c08a7a" opacity="0.5"/>
<ellipse cx="1728.6" cy="258.9" rx="17.3" ry="3.3" fill="#b83c3e" />
</g></g>
</g>
<g id="rec">
<rect x="131" y="62.3" width="110" height="52.3" rx="11" fill="#333130"/>
<circle cx="158" cy="88.8" r="6.9" fill="#f15b4c"/>
<text x="175.4" y="96.5" font-family="'Liberation Sans', sans-serif" font-size="21.2" font-weight="normal" font-style="normal" fill="#dedede" text-anchor="start" textLength="43.2" lengthAdjust="spacingAndGlyphs" stroke="#dedede" stroke-width="0.45">REC</text>
</g>
</svg>
</body></html>
